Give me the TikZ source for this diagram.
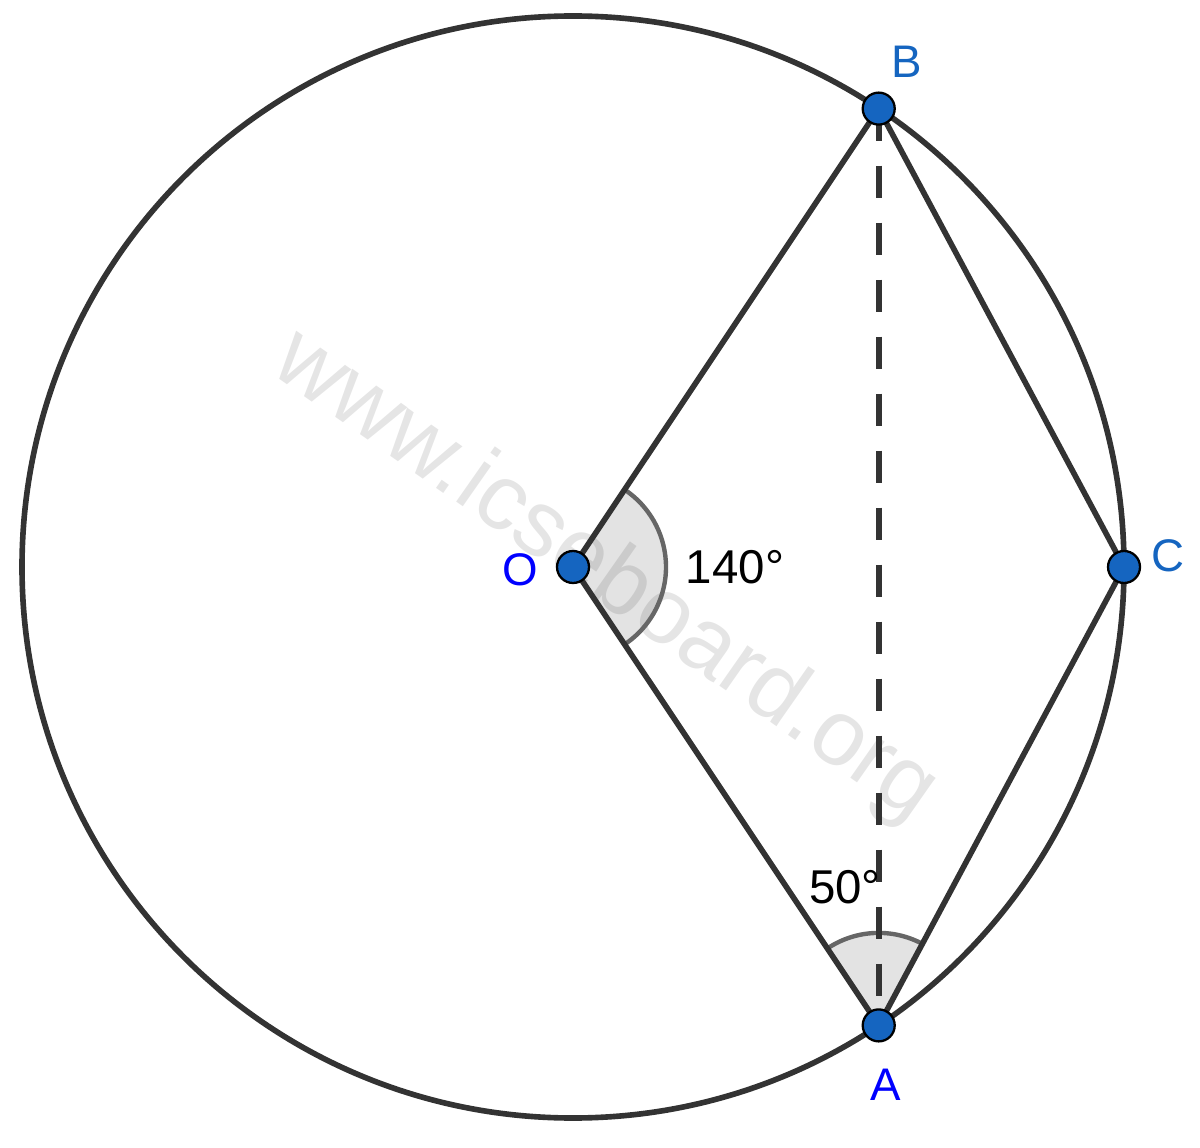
\documentclass[tikz,border=0pt]{standalone}
\usepackage{fontspec}
\setmainfont{Liberation Sans}
\usepackage{xcolor}
\usepackage{tikz}
\usetikzlibrary{positioning, calc}
\definecolor{ptblue}{HTML}{1565C0}
\definecolor{linegray}{HTML}{333333}
\tikzstyle{seg} = [line width=3.2pt, draw=linegray]
\tikzstyle{dot} = [circle, fill=ptblue, draw=black, line width=1.3pt, minimum size=0.64cm, inner sep=0pt]
\tikzstyle{ptlabel} = [text=ptblue, font=\fontsize{26}{31}\selectfont]
\tikzstyle{sector} = [fill=black, fill opacity=0.11]
\tikzstyle{arcline} = [draw=black!60, line width=2.5pt]
\tikzstyle{deg} = [font=\fontsize{27}{32}\selectfont]

\begin{document}
\begin{tikzpicture}
	\useasboundingbox (0,0) rectangle (24,22.94);
	\coordinate (O) at (11.46,11.6);
	\coordinate (B) at ($(O)+(56.3:11.02)$);
	\coordinate (A) at ($(O)+(-56.3:11.02)$);
	\coordinate (C) at ($(O)+(0:11.02)$);
	% watermark
	\node (wm) [rotate=-35, text=black!10, font=\fontsize{53}{60}\selectfont] at (12.1,11.4) {www.icseboard.org};
	% angle marks
	\fill [sector] (O) -- ++(-56.3:1.86) arc (-56.3:56.3:1.86) -- cycle;
	\fill [sector] (A) -- ++(61.84:1.85) arc (61.84:123.7:1.85) -- cycle;
	\draw [arcline] ($(O)+(-56.3:1.86)$) arc (-56.3:56.3:1.86);
	\draw [arcline] ($(A)+(61.84:1.85)$) arc (61.84:123.7:1.85);
	% circle and chords
	\draw [seg] (O) circle (11.02);
	\draw [seg] (O) -- (B) -- (C) -- (A) -- cycle;
	\draw [seg, dash pattern=on 0.64cm off 0.5cm] (B) -- (A);
	\node (a140) [deg] at (14.7,11.6) {140°};
	\node (a50) [deg] at (16.9,5.2) {50°};
	% points
	\node (pO) [dot] at (O) {};
	\node (pB) [dot] at (B) {};
	\node (pA) [dot] at (A) {};
	\node (pC) [dot] at (C) {};
	\node (lB) [ptlabel] at (18.14,21.70) {B};
	\node (lC) [ptlabel] at (23.36,11.82) {C};
	\node (lO) [ptlabel, text=blue] at (10.4,11.54) {O};
	\node (lA) [ptlabel, text=blue] at (17.72,1.24) {A};
\end{tikzpicture}
\end{document}
